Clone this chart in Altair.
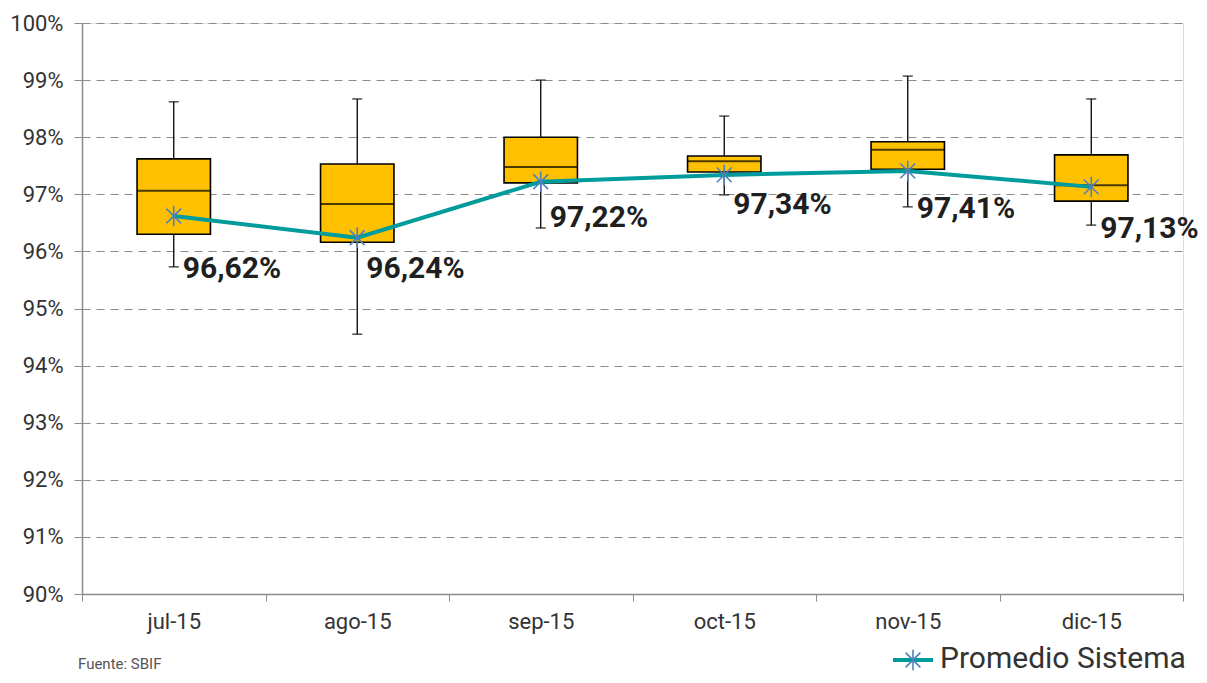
import altair as alt
import pandas as pd

months = ["jul-15", "ago-15", "sep-15", "oct-15", "nov-15", "dic-15"]
whisker_low = [95.73, 94.55, 96.41, 96.99, 96.78, 96.46]
q1 = [96.30, 96.16, 97.20, 97.39, 97.44, 96.88]
median = [97.06, 96.83, 97.48, 97.58, 97.78, 97.16]
q3 = [97.62, 97.53, 98.00, 97.67, 97.92, 97.69]
whisker_high = [98.62, 98.67, 99.00, 98.37, 99.07, 98.67]
promedio = [96.62, 96.24, 97.22, 97.34, 97.41, 97.13]
label_dy = [62, 40, 45, 39, 47, 51]
y_ticks = [90, 91, 92, 93, 94, 95, 96, 97, 98, 99, 100]

df = pd.DataFrame({
    "mes": months, "low": whisker_low, "q1": q1, "median": median,
    "q3": q3, "high": whisker_high, "promedio": promedio,
})
df["label"] = [f"{v:.2f}".replace(".", ",") + "%" for v in promedio]

FONT = "Roboto"
TEAL = "#009B9B"
STAR_BLUE = "#4F81BD"
ASTERISK = "M0,-1L0,1M-0.72,-0.72L0.72,0.72M-0.72,0.72L0.72,-0.72"

xenc = alt.X(
    "mes:N", sort=months,
    scale=alt.Scale(domain=months, paddingInner=0, paddingOuter=0),
    axis=alt.Axis(title=None, labelAngle=0, tickBand="extent", tickSize=7,
                  labelPadding=10, labelFont=FONT, labelFontSize=22,
                  labelColor="#333333", domainColor="#8c8c8c", tickColor="#8c8c8c",
                  domainWidth=1.5, grid=False),
)
yscale = alt.Scale(domain=[90, 100], nice=False, zero=False)
yaxis = alt.Axis(title=None, values=y_ticks, labelExpr="datum.value + '%'",
                 labelFont=FONT, labelFontSize=22, labelColor="#333333",
                 labelPadding=11, tickSize=8, tickColor="#8c8c8c",
                 domainColor="#8c8c8c", domainWidth=1.5,
                 grid=True, gridColor="#8c8c8c", gridDash=[8, 6], gridWidth=1.2)

base = alt.Chart(df).encode(x=xenc)

whiskers = base.mark_rule(color="black", strokeWidth=1.3).encode(
    y=alt.Y("low:Q", scale=yscale, axis=yaxis), y2="high:Q")
cap_low = base.mark_tick(color="black", size=10, thickness=1.5).encode(
    y=alt.Y("low:Q", scale=yscale))
cap_high = base.mark_tick(color="black", size=10, thickness=1.5).encode(
    y=alt.Y("high:Q", scale=yscale))
box = base.mark_bar(width={"band": 0.4}, color="#FFC000", stroke="black",
                    strokeWidth=1.6).encode(y=alt.Y("q1:Q", scale=yscale), y2="q3:Q")
med = base.mark_tick(color="black", size=73, thickness=2).encode(
    y=alt.Y("median:Q", scale=yscale))
line = base.mark_line(color=TEAL, strokeWidth=4).encode(
    y=alt.Y("promedio:Q", scale=yscale))
pts = base.mark_point(shape=ASTERISK, filled=False, size=420, stroke=STAR_BLUE,
                      strokeWidth=1.6, opacity=1).encode(
    y=alt.Y("promedio:Q", scale=yscale))

label_layers = []
for m, d in zip(months, label_dy):
    label_layers.append(
        base.transform_filter(alt.datum.mes == m).mark_text(
            align="left", baseline="alphabetic", dx=9, dy=d,
            font="Roboto", fontSize=30, fontWeight="bold",
            color="#1f1f1f").encode(
            y=alt.Y("promedio:Q", scale=yscale), text="label:N")
    )

leg_df = pd.DataFrame({"t": ["Promedio Sistema"]})
leg_line = alt.Chart(leg_df).mark_rule(color=TEAL, strokeWidth=4).encode(
    x=alt.value(811), x2=alt.value(851), y=alt.value(637))
leg_pt = alt.Chart(leg_df).mark_point(shape=ASTERISK, filled=False, size=420,
                                      stroke=STAR_BLUE, strokeWidth=1.6, opacity=1).encode(
    x=alt.value(831), y=alt.value(637))
leg_txt = alt.Chart(leg_df).mark_text(align="left", baseline="alphabetic", font=FONT,
                                      fontSize=30, color="#333333").encode(
    x=alt.value(858), y=alt.value(645), text="t:N")
src_df = pd.DataFrame({"t": ["Fuente: SBIF"]})
src_txt = alt.Chart(src_df).mark_text(align="left", baseline="alphabetic", font=FONT,
                                      fontSize=15, color="#555555").encode(
    x=alt.value(-4), y=alt.value(646), text="t:N")

chart = alt.layer(whiskers, cap_low, cap_high, box, med, line, pts, *label_layers,
                  leg_line, leg_pt, leg_txt, src_txt).properties(
    width=1101, height=571, autosize="none",
    padding={"left": 74, "top": 15, "right": 16, "bottom": 81},
).configure_view(stroke=None).configure(background="white")

chart.save("out.html", embed_options={"renderer": "svg", "actions": False})
